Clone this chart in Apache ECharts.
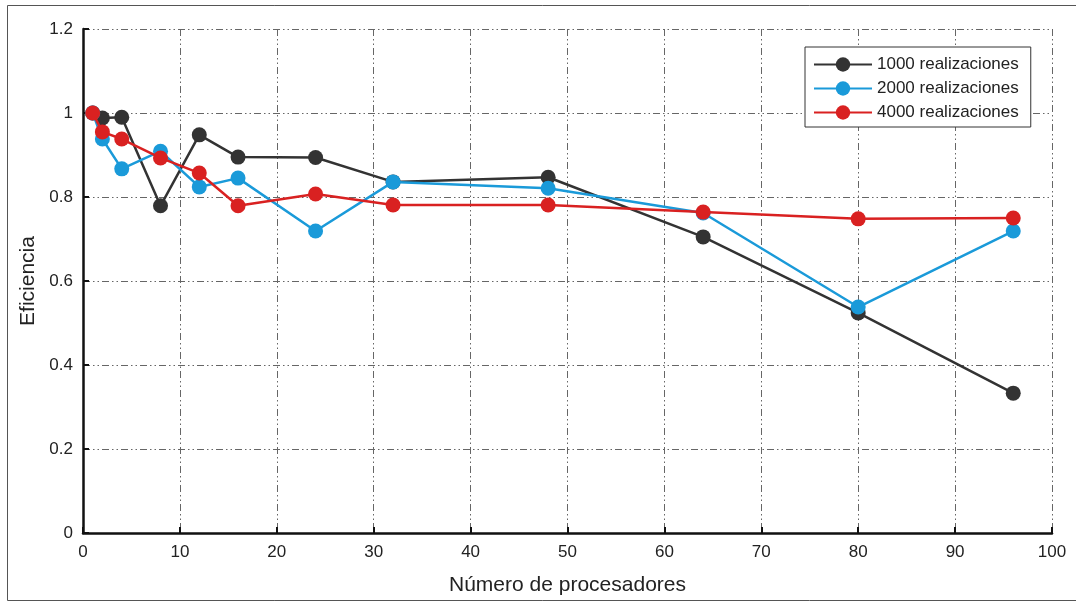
<!DOCTYPE html>
<html>
<head>
<meta charset="utf-8">
<script src="https://cdn.jsdelivr.net/npm/echarts@6/dist/echarts.min.js"></script>
<style>
  html, body { margin: 0; padding: 0; background: #ffffff; }
  #chart { width: 1076px; height: 605px; }
</style>
</head>
<body>
<div id="chart"></div>
<script>
// Número de procesadores (eje x)
const procesadores = [1, 2, 4, 8, 12, 16, 24, 32, 48, 64, 80, 96];

// Eficiencia por número de realizaciones
const ef1000 = [1.000, 0.988, 0.990, 0.779, 0.948, 0.895, 0.894, 0.836, 0.847, 0.705, 0.524, 0.333];
const ef2000 = [1.000, 0.938, 0.867, 0.909, 0.824, 0.845, 0.719, 0.836, 0.821, 0.762, 0.538, 0.719];
const ef4000 = [1.000, 0.955, 0.938, 0.893, 0.857, 0.779, 0.807, 0.781, 0.781, 0.764, 0.748, 0.750];

const seriesNames = ['1000 realizaciones', '2000 realizaciones', '4000 realizaciones'];
const seriesColors = ['#333333', '#1a9ad9', '#d92121'];

const FONT = '"Liberation Sans", Arial, sans-serif';
const gridDash = [7, 3, 1.5, 3, 1.5, 3];

function pairs(ys) { return procesadores.map((x, i) => [x, ys[i]]); }

const chart = echarts.init(document.getElementById('chart'), null, { renderer: 'canvas' });

const series = [ef1000, ef2000, ef4000].map((ys, k) => ({
  name: seriesNames[k],
  type: 'line',
  data: pairs(ys),
  symbol: 'circle',
  symbolSize: 15,
  showAllSymbol: true,
  lineStyle: { color: seriesColors[k], width: 2.5 },
  itemStyle: { color: seriesColors[k] },
  emphasis: { disabled: true },
  z: 3 + k
}));

chart.setOption({
  animation: false,
  backgroundColor: '#ffffff',
  textStyle: { fontFamily: FONT },
  graphic: [{
    type: 'rect',
    shape: { x: 7.5, y: 5.5, width: 1080, height: 595 },
    style: { fill: 'none', stroke: '#555555', lineWidth: 1 },
    silent: true
  }],
  grid: { left: 83, right: 24, top: 29, bottom: 72, containLabel: false },
  legend: {
    orient: 'vertical',
    left: 805,
    top: 47,
    data: seriesNames,
    itemWidth: 58,
    itemHeight: 18,
    itemGap: 7,
    padding: [9, 12, 6, 8],
    borderColor: '#333333',
    borderWidth: 1,
    backgroundColor: '#ffffff',
    textStyle: { fontFamily: FONT, fontSize: 17, color: '#222222' }
  },
  xAxis: {
    type: 'value',
    min: 0, max: 100, interval: 10,
    name: 'Número de procesadores',
    nameLocation: 'middle',
    nameGap: 42,
    nameTextStyle: { fontFamily: FONT, fontSize: 21, color: '#222222' },
    axisLine: { show: true, onZero: false, lineStyle: { color: '#111111', width: 2.5 } },
    axisTick: { show: true, inside: true, length: 6, lineStyle: { color: '#111111', width: 2 } },
    axisLabel: { fontFamily: FONT, fontSize: 17, color: '#222222', margin: 11 },
    splitLine: { show: true, lineStyle: { color: '#666666', width: 1, type: gridDash } }
  },
  yAxis: {
    type: 'value',
    min: 0, max: 1.2, interval: 0.2,
    name: 'Eficiencia',
    nameLocation: 'middle',
    nameGap: 39,
    nameTextStyle: { fontFamily: FONT, fontSize: 21, color: '#222222' },
    axisLine: { show: true, onZero: false, lineStyle: { color: '#111111', width: 2.5 } },
    axisTick: { show: true, inside: true, length: 6, lineStyle: { color: '#111111', width: 2 } },
    axisLabel: {
      fontFamily: FONT, fontSize: 17, color: '#222222', margin: 10,
      formatter: v => String(Math.round(v * 10) / 10)
    },
    splitLine: { show: true, lineStyle: { color: '#666666', width: 1, type: gridDash } }
  },
  series: series
});
</script>
</body>
</html>
